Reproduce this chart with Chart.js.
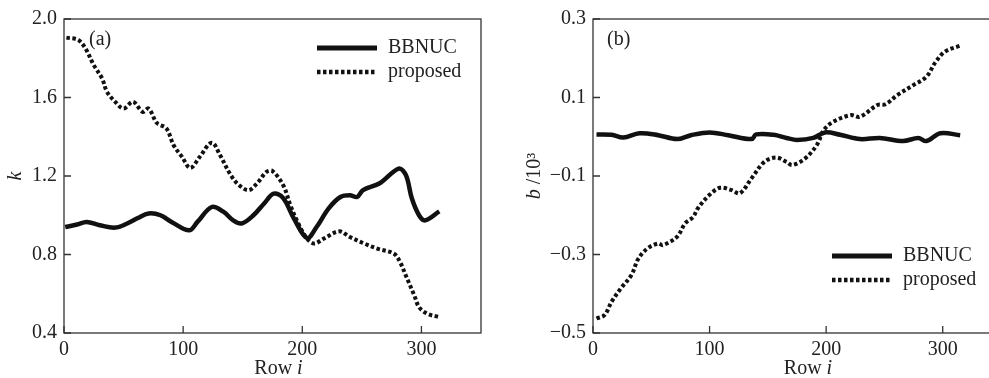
<!DOCTYPE html>
<html>
<head>
<meta charset="utf-8">
<script src="https://cdn.jsdelivr.net/npm/chart.js@4.4.1/dist/chart.umd.min.js"></script>
<style>
  html, body { margin:0; padding:0; background:#fff; overflow:hidden; }
  #wrap { position:relative; width:989px; height:378px; overflow:hidden; }
  #chart-k { position:absolute; left:0; top:0; }
  #chart-b { position:absolute; left:500px; top:0; }
</style>
</head>
<body>
<div id="wrap">
  <canvas id="chart-k" width="490" height="378"></canvas>
  <canvas id="chart-b" width="510" height="378"></canvas>
</div>
<script>
// series + ticks
const seriesNames = ['BBNUC', 'proposed'];
const rowTicks = [0, 100, 200, 300];
const kTicks = [0.4, 0.8, 1.2, 1.6, 2.0];
const bTicks = [-0.5, -0.3, -0.1, 0.1, 0.3];

// (a) gain k
const kRowsBBNUC = [1, 11, 19, 30, 43, 53, 62, 71, 81, 91, 105, 112, 124, 134, 142, 149, 159, 168, 176, 184,
                    193, 204, 212, 222, 232, 240, 246, 251, 265, 281, 287, 292, 298, 303, 315];
const kBBNUC     = [0.94, 0.953, 0.966, 0.949, 0.937, 0.958, 0.986, 1.009, 1.0, 0.963, 0.923, 0.966, 1.042, 1.017, 0.974, 0.958, 1.0, 1.06, 1.11, 1.087,
                    0.983, 0.884, 0.94, 1.034, 1.093, 1.102, 1.093, 1.128, 1.163, 1.238, 1.204, 1.085, 1.0, 0.974, 1.02];
const kRowsProposed = [2, 12, 18, 25, 32, 36, 43, 50, 58, 66, 71, 78, 86, 92, 99, 106, 114, 124, 131, 140, 147,
                       155, 162, 170, 175, 184, 190, 196, 204, 210, 218, 231, 240, 252, 263, 277, 282, 288, 294, 298, 305, 315];
const kProposed     = [1.905, 1.893, 1.85, 1.765, 1.697, 1.63, 1.578, 1.544, 1.578, 1.527, 1.544, 1.47, 1.442, 1.357, 1.298, 1.241, 1.298, 1.37, 1.306, 1.204, 1.153,
                       1.128, 1.162, 1.221, 1.225, 1.153, 1.051, 0.966, 0.881, 0.856, 0.881, 0.918, 0.889, 0.856, 0.83, 0.804, 0.762, 0.677, 0.592, 0.532, 0.498, 0.481];

// (b) offset b /10^3
const bRowsBBNUC = [3, 16, 26, 40, 56, 72, 84, 100, 116, 136, 140, 155, 166, 175, 189, 199, 212, 229, 246, 266, 279, 286, 298, 315];
const bBBNUC     = [0.006, 0.005, -0.002, 0.009, 0.004, -0.006, 0.004, 0.011, 0.004, -0.006, 0.006, 0.005, -0.003, -0.008, -0.003, 0.011, 0.005, -0.006, -0.003, -0.011, -0.003, -0.011, 0.009, 0.004];
const bRowsProposed = [3, 10, 16, 24, 33, 39, 47, 56, 60, 72, 79, 86, 90, 100, 109, 119, 126, 136, 147, 157, 166, 171,
                       182, 192, 198, 206, 221, 229, 244, 251, 261, 275, 286, 294, 302, 315];
const bProposed     = [-0.463, -0.454, -0.42, -0.386, -0.352, -0.31, -0.284, -0.272, -0.276, -0.255, -0.221, -0.204, -0.182, -0.148, -0.13, -0.136, -0.144, -0.106, -0.064, -0.053, -0.064, -0.072,
                       -0.055, -0.021, 0.017, 0.038, 0.055, 0.051, 0.081, 0.083, 0.106, 0.132, 0.153, 0.191, 0.217, 0.232];

const FONT = '"Liberation Serif", "Times New Roman", serif';
const FS = 20;
const INK = '#111';
const TXT = '#222';
const AXIS = '#333';

function pts(xs, ys) { return xs.map((x,i)=>({x, y: ys[i]})); }
function fmt(v) { return v.toFixed(1).replace('-', '\u2212'); }

function richText(ctx, parts, x, y, rot) {
    ctx.save();
    ctx.translate(x, y);
    ctx.rotate(rot);
    ctx.textBaseline = 'middle';
    ctx.textAlign = 'left';
    let w = 0;
    parts.forEach(p => { ctx.font = p.font; w += ctx.measureText(p.text).width; });
    let cx = -w/2;
    parts.forEach(p => { ctx.font = p.font; ctx.fillText(p.text, cx, 0); cx += ctx.measureText(p.text).width; });
    ctx.restore();
}

const upright = `${FS}px ${FONT}`;
const italic  = `italic ${FS}px ${FONT}`;

// frame, inward ticks, titles, panel tag, legend
const panelPlugin = {
    id: 'panel',
    afterDraw(chart, args, o) {
        const ctx = chart.ctx, a = chart.chartArea;
        const xs = chart.scales.x, ys = chart.scales.y;
        ctx.save();
        ctx.strokeStyle = AXIS;
        ctx.lineWidth = 1.3;
        ctx.strokeRect(a.left, a.top, a.right - a.left, a.bottom - a.top);
        ctx.beginPath();
        xs.ticks.forEach(t => {
            const px = xs.getPixelForValue(t.value);
            ctx.moveTo(px, a.bottom); ctx.lineTo(px, a.bottom - 7);
        });
        ys.ticks.forEach(t => {
            const py = ys.getPixelForValue(t.value);
            ctx.moveTo(a.left, py); ctx.lineTo(a.left + 7, py);
        });
        ctx.stroke();

        ctx.fillStyle = TXT;
        richText(ctx, o.yTitle, a.left - o.yTitleOff, (a.top + a.bottom)/2, -Math.PI/2);
        richText(ctx, [{text:'Row ', font: upright}, {text:'i', font: italic}],
                 (a.left + a.right)/2 + o.xTitleDx, a.bottom + 36, 0);

        ctx.font = upright;
        ctx.textBaseline = 'middle';
        ctx.textAlign = 'left';
        ctx.fillText(o.tag, a.left + o.tagX, a.top + 21);

        // legend
        chart.data.datasets.forEach((ds, i) => {
            const y = a.top + o.legY + i*24;
            const x0 = a.left + o.legX;
            ctx.save();
            ctx.strokeStyle = ds.borderColor;
            ctx.lineWidth = ds.borderWidth + 0.5;
            ctx.setLineDash(ds.borderDash || []);
            ctx.beginPath();
            ctx.moveTo(x0, y); ctx.lineTo(x0 + 60, y);
            ctx.stroke();
            ctx.restore();
            ctx.fillText(ds.label, x0 + 71, y);
        });
        ctx.restore();
    }
};

function makeChart(id, series, yTicks, yMin, yMax, yWidth, panel) {
    return new Chart(document.getElementById(id), {
        type: 'line',
        data: {
            datasets: series.map((s, i) => ({
                label: seriesNames[i],
                data: s,
                borderColor: INK,
                borderWidth: i === 0 ? 4.5 : 4,
                borderDash: i === 0 ? [] : [3.5, 2.5],
                borderJoinStyle: 'round',
                pointRadius: 0,
                tension: 0.35,
                fill: false
            }))
        },
        options: {
            responsive: false,
            animation: false,
            devicePixelRatio: 1,
            layout: { padding: { top: 19, right: 9, left: 0, bottom: 0 } },
            plugins: { legend: { display: false }, tooltip: { enabled: false }, panel },
            scales: {
                x: {
                    type: 'linear', min: 0, max: 350,
                    afterBuildTicks: s => { s.ticks = rowTicks.map(v => ({ value: v })); },
                    afterFit: s => { s.height = 45; },
                    grid: { display: false, drawTicks: false },
                    border: { display: false },
                    ticks: { font: { family: FONT, size: FS }, color: TXT, padding: 5, maxRotation: 0,
                             callback: v => String(v) }
                },
                y: {
                    type: 'linear', min: yMin, max: yMax,
                    afterBuildTicks: s => { s.ticks = yTicks.map(v => ({ value: v })); },
                    afterFit: s => { s.width = yWidth; },
                    grid: { display: false, drawTicks: false },
                    border: { display: false },
                    ticks: { font: { family: FONT, size: FS }, color: TXT, padding: 7,
                             callback: v => fmt(v) }
                }
            }
        },
        plugins: [panelPlugin]
    });
}

makeChart('chart-k', [pts(kRowsBBNUC, kBBNUC), pts(kRowsProposed, kProposed)], kTicks, 0.4, 2.0, 64, {
    yTitle: [{ text: 'k', font: italic }], yTitleOff: 48, xTitleDx: 6,
    tag: '(a)', tagX: 25, legX: 253, legY: 29
});
makeChart('chart-b', [pts(bRowsBBNUC, bBBNUC), pts(bRowsProposed, bProposed)], bTicks, -0.5, 0.3, 93, {
    yTitle: [{ text: 'b', font: italic }, { text: ' /10\u00b3', font: upright }], yTitleOff: 58, xTitleDx: 11,
    tag: '(b)', tagX: 14, legX: 239, legY: 237
});
</script>
</body>
</html>
